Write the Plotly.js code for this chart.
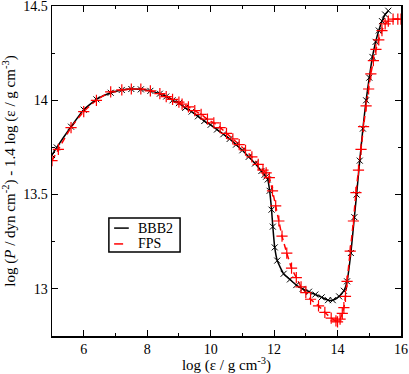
<!DOCTYPE html>
<html>
<head>
<meta charset="utf-8">
<script src="https://cdn.plot.ly/plotly-3.0.1.min.js"></script>
<style>html,body{margin:0;padding:0;background:#fff;}#chart{width:409px;height:374px;}</style>
</head>
<body>
<div id="chart"></div>
<script>
var bbb2X = [5.0, 5.15, 5.6, 6.0, 6.4, 6.85, 7.2, 7.5, 7.8, 8.1, 8.4, 8.6, 8.8, 9.0, 9.2, 9.4, 9.6, 9.8, 10.0, 10.2, 10.4, 10.6, 10.8, 11.0, 11.2, 11.4, 11.6, 11.7, 11.75, 11.8, 11.86, 11.92, 11.96, 12.02, 12.1, 12.3, 12.5, 12.7, 12.9, 13.1, 13.3, 13.5, 13.7, 13.85, 14.05, 14.2, 14.3, 14.42, 14.53, 14.6, 14.7, 14.8, 14.9, 15.0, 15.1, 15.2, 15.3, 15.4, 15.5, 15.6];
var bbb2Y = [13.71, 13.75, 13.86, 13.95, 14.005, 14.04, 14.055, 14.06, 14.058, 14.05, 14.035, 14.02, 14.0, 13.985, 13.96, 13.94, 13.915, 13.89, 13.87, 13.845, 13.82, 13.795, 13.765, 13.735, 13.7, 13.665, 13.625, 13.605, 13.595, 13.58, 13.52, 13.42, 13.33, 13.22, 13.15, 13.08, 13.05, 13.02, 13.0, 12.985, 12.97, 12.955, 12.94, 12.94, 12.96, 12.99, 13.04, 13.19, 13.38, 13.5, 13.68, 13.85, 14.0, 14.12, 14.23, 14.31, 14.37, 14.42, 14.455, 14.475];

var fpsX = [5.0, 5.2, 5.6, 6.0, 6.4, 6.85, 7.2, 7.5, 7.8, 8.1, 8.4, 8.6, 8.8, 9.0, 9.1, 9.3, 9.5, 9.7, 9.9, 10.1, 10.3, 10.5, 10.7, 10.9, 11.1, 11.3, 11.5, 11.65, 11.75, 11.85, 11.95, 12.05, 12.15, 12.25, 12.4, 12.55, 12.7, 12.85, 13.0, 13.15, 13.4, 13.6, 13.8, 13.95, 14.0, 14.08, 14.15, 14.2, 14.25, 14.3, 14.4, 14.5, 14.58, 14.66, 14.74, 14.82, 14.9, 14.98, 15.05, 15.13, 15.21, 15.3, 15.4, 15.5, 15.6, 15.75, 15.9, 16.0];
var fpsY = [13.68, 13.74, 13.855, 13.94, 14.0, 14.045, 14.055, 14.06, 14.06, 14.05, 14.035, 14.02, 14.005, 13.99, 13.98, 13.965, 13.945, 13.925, 13.9, 13.88, 13.855, 13.825, 13.795, 13.765, 13.735, 13.70, 13.66, 13.63, 13.615, 13.59, 13.52, 13.44, 13.36, 13.28, 13.19, 13.11, 13.06, 13.01, 12.98, 12.945, 12.91, 12.875, 12.845, 12.83, 12.825, 12.84, 12.87, 12.9, 12.96, 13.04, 13.2, 13.36, 13.51, 13.63, 13.74, 13.86, 13.97, 14.06, 14.14, 14.21, 14.27, 14.32, 14.37, 14.405, 14.42, 14.43, 14.43, 14.43];

var seriesNames = ['BBB2', 'FPS'];
var seriesColors = ['#000000', '#ff0000'];
var seriesDash = ['solid', '6px,4px'];

var font = 'Liberation Serif';

var traces = [
  {x: bbb2X, y: bbb2Y, mode: 'lines', name: seriesNames[0], line: {color: seriesColors[0], width: 1.5, shape: 'spline', smoothing: 0.5}},
  {x: fpsX, y: fpsY, mode: 'lines', name: seriesNames[1], line: {color: seriesColors[1], width: 1.5, dash: seriesDash[1], shape: 'spline', smoothing: 0.5}},
  {x: bbb2X, y: bbb2Y, mode: 'markers', showlegend: false, hoverinfo: 'skip', marker: {symbol: 'x-thin', size: 6, line: {color: seriesColors[0], width: 1}}},
  {x: fpsX, y: fpsY, mode: 'markers', showlegend: false, hoverinfo: 'skip', marker: {symbol: 'cross-thin', size: 8, line: {color: seriesColors[1], width: 1.2}}}
];

// legend drawn as a box with line samples and labels (paper coordinates)
var shapes = [
  {type: 'rect', xref: 'paper', yref: 'paper', x0: 0.163, x1: 0.367, y0: 0.2545, y1: 0.3576,
   line: {color: '#000', width: 1.5}, fillcolor: '#fff', layer: 'above'}
];
var annotations = [];
var legendRowsY = [0.327, 0.279];
for (var i = 0; i < seriesNames.length; i++) {
  shapes.push({type: 'line', xref: 'paper', yref: 'paper', x0: 0.178, x1: 0.22, y0: legendRowsY[i], y1: legendRowsY[i],
    line: {color: seriesColors[i], width: 1.5, dash: i === 1 ? 'dash' : 'solid'}, layer: 'above'});
  annotations.push({xref: 'paper', yref: 'paper', x: 0.243, y: legendRowsY[i], xanchor: 'left', yanchor: 'middle',
    text: seriesNames[i], showarrow: false, borderpad: 0, font: {family: font, size: 14, color: '#000'}});
}

var axisCommon = {
  showgrid: false, zeroline: false, showline: true, linecolor: '#000', linewidth: 1.5,
  mirror: 'ticks', ticks: 'inside', ticklen: 6, tickwidth: 1, tickcolor: '#000',
  ticklabeloverflow: 'allow',
  tickfont: {family: font, size: 14, color: '#000'}
};

var layout = {
  width: 409, height: 374,
  margin: {l: 52, r: 8, t: 6, b: 38},
  paper_bgcolor: '#fff', plot_bgcolor: '#fff',
  font: {family: font, color: '#000'},
  showlegend: false,
  shapes: shapes,
  annotations: annotations,
  xaxis: Object.assign({}, axisCommon, {
    range: [5, 16.0001], dtick: 2, tick0: 0,
    minor: {dtick: 1, ticks: 'inside', ticklen: 3, tickcolor: '#000'},
    title: {text: 'log (ε / g cm<sup>-3</sup>)', font: {family: font, size: 15, color: '#000'}, standoff: 4}
  }),
  yaxis: Object.assign({}, axisCommon, {
    range: [12.75, 14.5001], dtick: 0.5, tick0: 13,
    minor: {dtick: 0.25, ticks: 'inside', ticklen: 3, tickcolor: '#000'},
    title: {text: 'log (<i>P</i> / dyn cm<sup>-2</sup>) - 1.4 log (ε / g cm<sup>-3</sup>)', font: {family: font, size: 15, color: '#000'}, standoff: 6}
  })
};

Plotly.newPlot('chart', traces, layout, {staticPlot: true});
</script>
</body>
</html>
